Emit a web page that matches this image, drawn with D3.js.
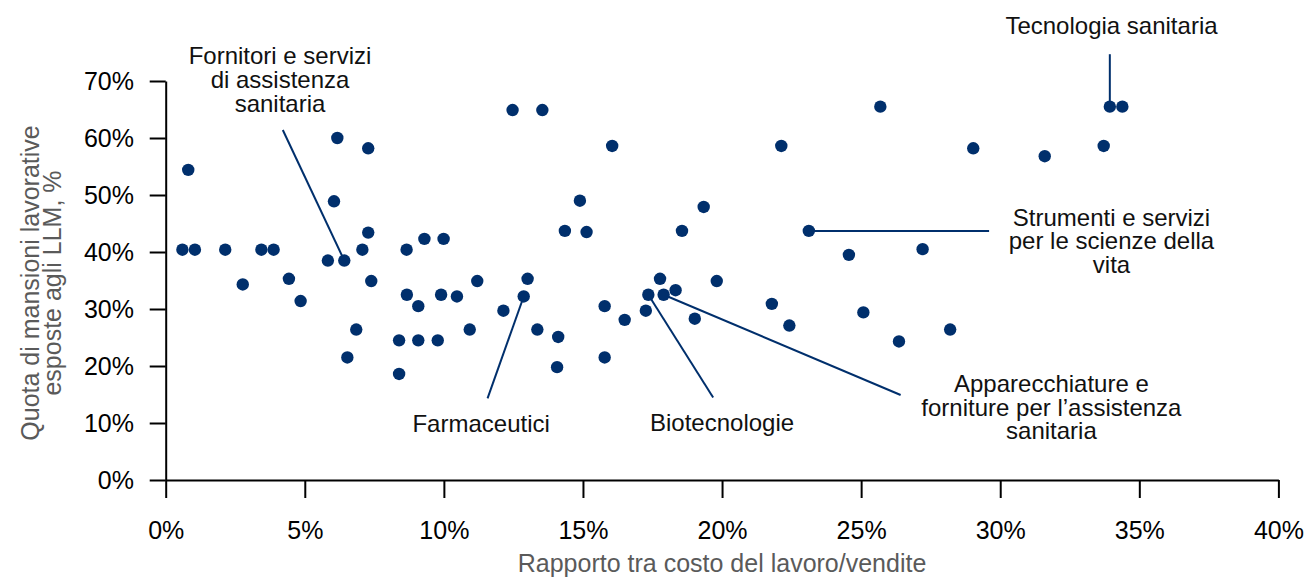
<!DOCTYPE html>
<html>
<head>
<meta charset="utf-8">
<script src="https://cdn.jsdelivr.net/npm/d3@7"></script>
<style>
  body { margin: 0; background: #fff; }
  text { font-family: "Liberation Sans", Arial, sans-serif; }
</style>
</head>
<body>
<svg id="chart" width="1309" height="578"></svg>
<script>
// labour cost / sales (%) and share of tasks exposed to LLMs (%), one entry per company
const labour_cost_ratio = [0.81, 0.60, 1.05, 2.14, 3.44, 3.88, 2.77, 4.43, 4.85, 6.17, 7.28, 6.05, 7.28, 7.07, 5.83,
    6.42, 7.39, 6.85, 6.53, 8.66, 9.30, 9.99, 8.67, 9.08, 9.90, 8.39, 9.08, 9.78, 8.39, 12.47, 13.54, 16.05, 14.89,
    14.35, 15.13, 19.34, 18.56, 11.20, 13.01, 12.87, 10.47, 12.14, 10.93, 13.36, 14.11, 14.07, 15.78, 16.50, 15.78,
    17.77, 17.35, 17.90, 18.33, 17.26, 19.02, 19.81, 25.69, 22.13, 29.03, 31.60, 23.12, 24.56, 27.21, 21.79, 22.42,
    25.08, 26.36, 28.20, 33.94, 34.39, 33.72];
const llm_exposure = [54.4, 40.4, 40.4, 40.4, 40.4, 40.4, 34.3, 35.3, 31.4, 60.0, 58.2, 48.9, 43.4, 40.4, 38.5,
    38.5, 34.9, 26.4, 21.5, 40.4, 42.3, 42.3, 32.5, 30.5, 32.5, 24.5, 24.5, 24.5, 18.6, 64.9, 64.9, 58.6, 49.0,
    43.7, 43.5, 47.9, 43.7, 34.9, 35.3, 32.2, 32.2, 29.7, 26.4, 26.4, 25.1, 19.8, 30.5, 28.1, 21.5,
    35.3, 32.5, 32.5, 33.3, 29.7, 28.3, 34.9, 65.5, 58.6, 58.2, 56.8, 43.7, 39.5, 40.5, 30.9, 27.1,
    29.4, 24.3, 26.4, 65.5, 65.5, 58.6];

const x_ticks = [0, 5, 10, 15, 20, 25, 30, 35, 40];
const y_ticks = [0, 10, 20, 30, 40, 50, 60, 70];

const x_title = "Rapporto tra costo del lavoro/vendite";
const y_title = ["Quota di mansioni lavorative", "esposte agli LLM, %"];

// sub-industry labels and the point each one points at
const sector_names = [
    ["Fornitori e servizi", "di assistenza", "sanitaria"],
    ["Farmaceutici"],
    ["Biotecnologie"],
    ["Apparecchiature e", "forniture per l\u2019assistenza", "sanitaria"],
    ["Strumenti e servizi", "per le scienze della", "vita"],
    ["Tecnologia sanitaria"]
];
const sector_point = [15, 39, 50, 51, 60, 68];

const dataset = labour_cost_ratio.map((x, i) => [x, llm_exposure[i]]);

const svg = d3.select("#chart");
const navy = "#002f6c";

const xScale = d3.scaleLinear().domain([0, 40]).range([165.7, 1278.4]);
const yScale = d3.scaleLinear().domain([0, 70]).range([480, 81]);

// label placement, in chart units: [label x, first baseline y, leader start x, leader start y]
const label_layout = [
    [4.11, 72.9, 4.21, 61.4],
    [11.34, 8.47, 11.57, 14.33],
    [20.0, 8.6, 19.68, 14.47],
    [31.84, 15.44, 26.42, 14.91],
    [34.0, 44.6, 29.6, 43.7],
    [34.0, 78.2, 33.94, 74.7]
];

// Bottom axis
const xAxis = svg.append("g")
    .attr("transform", `translate(0, ${yScale(0)})`)
    .call(d3.axisBottom(xScale).tickValues(x_ticks).tickFormat(d => d + "%")
        .tickSize(18).tickSizeOuter(0).tickPadding(23.7));
xAxis.select(".domain").attr("stroke", "#000").attr("stroke-width", 2);
xAxis.selectAll(".tick line").attr("stroke", "#000").attr("stroke-width", 2);
xAxis.selectAll(".tick text")
    .attr("font-size", 25)
    .attr("fill", "#000")
    .style("font-family", '"Liberation Sans", Arial, sans-serif');

// Left axis
const yAxis = svg.append("g")
    .attr("transform", `translate(${xScale(0)}, 0)`)
    .call(d3.axisLeft(yScale).tickValues(y_ticks).tickFormat(d => d + "%")
        .tickSize(16).tickSizeOuter(0).tickPadding(15.7));
yAxis.select(".domain").attr("stroke", "#000").attr("stroke-width", 2);
yAxis.selectAll(".tick line").attr("stroke", "#000").attr("stroke-width", 2);
yAxis.selectAll(".tick text")
    .attr("font-size", 25)
    .attr("fill", "#000")
    .style("font-family", '"Liberation Sans", Arial, sans-serif');

// axis titles
svg.append("text")
    .attr("x", (xScale(0) + xScale(40)) / 2)
    .attr("y", 572)
    .attr("text-anchor", "middle")
    .attr("font-size", 25)
    .attr("fill", "#5a5a5a")
    .text(x_title);

svg.append("text")
    .attr("transform", `translate(39, 283) rotate(-90)`)
    .attr("text-anchor", "middle")
    .attr("font-size", 25)
    .attr("fill", "#5a5a5a")
    .selectAll("tspan")
    .data(y_title)
    .enter()
    .append("tspan")
    .attr("x", 0)
    .attr("dy", (d, i) => i === 0 ? 0 : 22)
    .text(d => d);

// leader lines
svg.append("g")
    .selectAll("line")
    .data(sector_point)
    .enter()
    .append("line")
    .attr("x1", (d, i) => xScale(label_layout[i][2]))
    .attr("y1", (d, i) => yScale(label_layout[i][3]))
    .attr("x2", d => xScale(dataset[d][0]))
    .attr("y2", d => yScale(dataset[d][1]))
    .attr("stroke", navy)
    .attr("stroke-width", 2);

// sector labels
const labels = svg.append("g")
    .selectAll("text")
    .data(sector_names)
    .enter()
    .append("text")
    .attr("text-anchor", "middle")
    .attr("font-size", 24)
    .attr("fill", "#111");
labels.selectAll("tspan")
    .data((d, i) => d.map(line => [line, i]))
    .enter()
    .append("tspan")
    .attr("x", d => xScale(label_layout[d[1]][0]))
    .attr("y", (d, j) => yScale(label_layout[d[1]][1]) + j * 23.6)
    .text(d => d[0]);

// DOTS
svg.append("g")
    .selectAll("circle")
    .data(dataset)
    .enter()
    .append("circle")
    .attr("cx", d => xScale(d[0]))
    .attr("cy", d => yScale(d[1]))
    .attr("r", 6.2)
    .attr("fill", navy);
</script>
</body>
</html>
